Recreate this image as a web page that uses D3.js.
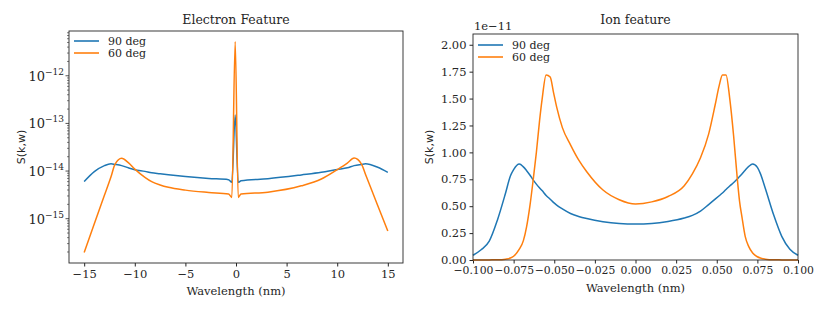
<!DOCTYPE html>
<html>
<head>
<meta charset="utf-8">
<script src="https://d3js.org/d3.v7.min.js"></script>
<style>
  body { margin: 0; background: #fff; }
  text { font-family: "DejaVu Serif", "Liberation Serif", serif; fill: #262626; }
  .ylab { font-family: "DejaVu Sans", sans-serif; }
</style>
</head>
<body>
<svg width="830" height="312"></svg>
<script>
const seriesNames = ["90 deg", "60 deg"];
const colors = ["#1f77b4", "#ff7f0e"];

// electron feature, wavelength in nm
const electronX = [-15, -14, -13, -12.35, -11.96, -11.3, -10.64, -10, -9, -8.33, -7.5, -6.68, -5, -2.7, -0.74, -0.41, -0.08, 0.22, 0.5, 3.15, 6.45, 8.43, 10, 11, 11.67, 12.4, 12.8, 14, 15];
const electron90 = [6.0e-15, 9.7e-15, 1.3e-14, 1.42e-14, 1.38e-14, 1.3e-14, 1.17e-14, 1.07e-14, 9.85e-15, 9.2e-15, 8.8e-15, 8.4e-15, 7.7e-15, 7.0e-15, 6.6e-15, 5.8e-15, 1.5e-13, 5.8e-15, 6.25e-15, 6.9e-15, 8.3e-15, 9.4e-15, 1.08e-14, 1.17e-14, 1.3e-14, 1.38e-14, 1.42e-14, 1.2e-14, 9.4e-15];
const electron60 = [1.95e-16, 7.8e-16, 3.1e-15, 7.6e-15, 1.38e-14, 1.86e-14, 1.5e-14, 1.1e-14, 7.4e-15, 6.0e-15, 5.1e-15, 4.55e-15, 3.98e-15, 3.56e-15, 3.3e-15, 2.8e-15, 5.2e-12, 2.8e-15, 3.3e-15, 3.6e-15, 4.9e-15, 6.8e-15, 1.07e-14, 1.47e-14, 1.87e-14, 1.4e-14, 8.5e-15, 1.9e-15, 5.5e-16];
const electronXTicks = [-15, -10, -5, 0, 5, 10, 15];
const electronYTicks = [-15, -14, -13, -12];

// ion feature, values in units of 1e-11
const ionX = [-0.1, -0.095, -0.09, -0.085, -0.08, -0.077, -0.075, -0.0715, -0.069, -0.067, -0.065, -0.063, -0.061, -0.059, -0.0575, -0.055, -0.0525, -0.0505, -0.0485, -0.045, -0.04, -0.035, -0.03, -0.02, -0.01, 0, 0.01, 0.02, 0.03, 0.035, 0.04, 0.045, 0.049, 0.0515, 0.0535, 0.0557, 0.058, 0.0604, 0.0625, 0.064, 0.0655, 0.0675, 0.0697, 0.0721, 0.075, 0.0768, 0.08, 0.085, 0.09, 0.095, 0.1];
const ion90 = [0.044, 0.095, 0.175, 0.37, 0.62, 0.78, 0.84, 0.892, 0.865, 0.83, 0.79, 0.745, 0.705, 0.67, 0.645, 0.6, 0.565, 0.535, 0.51, 0.475, 0.432, 0.405, 0.385, 0.356, 0.34, 0.335, 0.34, 0.358, 0.39, 0.415, 0.455, 0.515, 0.565, 0.597, 0.623, 0.655, 0.687, 0.72, 0.75, 0.775, 0.8, 0.835, 0.87, 0.892, 0.86, 0.805, 0.66, 0.42, 0.22, 0.1, 0.044];
const ion60 = [0, 0, 0.001, 0.002, 0.008, 0.018, 0.035, 0.1, 0.18, 0.31, 0.5, 0.74, 1.0, 1.3, 1.49, 1.72, 1.7, 1.56, 1.42, 1.23, 1.07, 0.93, 0.82, 0.65, 0.56, 0.52, 0.54, 0.59, 0.69, 0.8, 0.95, 1.17, 1.44, 1.62, 1.72, 1.72, 1.5, 1.15, 0.78, 0.55, 0.4, 0.22, 0.124, 0.065, 0.03, 0.018, 0.008, 0.002, 0.001, 0, 0];
const ionXTicks = [-0.1, -0.075, -0.05, -0.025, 0, 0.025, 0.05, 0.075, 0.1];
const ionYTicks = [0, 0.25, 0.5, 0.75, 1.0, 1.25, 1.5, 1.75, 2.0];

const svg = d3.select("svg");
const minus = s => s.replace("-", "\u2212");

function frame(g, w, h) {
  g.append("rect").attr("width", w).attr("height", h)
    .attr("fill", "none").attr("stroke", "#262626").attr("stroke-width", 0.9);
}

function legend(g, x0, y0) {
  seriesNames.forEach((name, i) => {
    const y = y0 + i * 12;
    g.append("line").attr("x1", x0).attr("x2", x0 + 25).attr("y1", y).attr("y2", y)
      .attr("stroke", colors[i]).attr("stroke-width", 1.6);
    g.append("text").attr("x", x0 + 34).attr("y", y + 4).attr("font-size", 11).text(name);
  });
}

// ---------- Electron Feature ----------
{
  const L = 69, T = 31, W = 334, H = 232;
  const g = svg.append("g").attr("transform", `translate(${L},${T})`);
  const x = d3.scaleLinear().domain([-16.5, 16.5]).range([0, W]);
  const y = d3.scaleLog().domain([Math.pow(10, -15.93), Math.pow(10, -11.06)]).range([H, 0]);

  const xAxis = g.append("g").attr("transform", `translate(0,${H})`)
    .call(d3.axisBottom(x).tickValues(electronXTicks).tickSize(3.5).tickPadding(3)
      .tickFormat(d => minus(String(d))));
  xAxis.selectAll("text").attr("font-size", 11.5);
  xAxis.selectAll(".tick line").attr("stroke", "#262626");

  // minor log ticks
  const minor = [];
  for (let e = -16; e <= -12; e++) for (let m = 2; m <= 9; m++) {
    const v = m * Math.pow(10, e);
    if (v >= y.domain()[0] && v <= y.domain()[1]) minor.push(v);
  }
  g.selectAll(".minor").data(minor).join("line")
    .attr("x1", -2).attr("x2", 0).attr("y1", d => y(d)).attr("y2", d => y(d))
    .attr("stroke", "#262626").attr("stroke-width", 0.6);
  g.selectAll(".major").data(electronYTicks).join("line")
    .attr("x1", -3.5).attr("x2", 0).attr("y1", d => y(Math.pow(10, d))).attr("y2", d => y(Math.pow(10, d)))
    .attr("stroke", "#262626").attr("stroke-width", 0.8);
  const yl = g.selectAll(".ylbl").data(electronYTicks).join("text")
    .attr("x", -5).attr("y", d => y(Math.pow(10, d)) + 5)
    .attr("text-anchor", "end").attr("font-size", 13);
  yl.append("tspan").text("10");
  yl.append("tspan").attr("dy", -6).attr("font-size", 9).text(d => "\u2212" + Math.abs(d));

  const line = d3.line().x(d => x(d[0])).y(d => y(d[1])).curve(d3.curveMonotoneX);
  [electron90, electron60].forEach((vals, i) => {
    g.append("path").datum(electronX.map((v, j) => [v, vals[j]]))
      .attr("fill", "none").attr("stroke", colors[i]).attr("stroke-width", 1.5)
      .attr("stroke-linejoin", "round").attr("d", line);
  });
  frame(g, W, H);
  xAxis.select(".domain").remove();
  legend(g, 5, 10);

  g.append("text").attr("x", W / 2).attr("y", -7).attr("text-anchor", "middle")
    .attr("font-size", 12.5).text("Electron Feature");
  g.append("text").attr("x", W / 2).attr("y", H + 32).attr("text-anchor", "middle")
    .attr("font-size", 11.5).text("Wavelength (nm)");
  g.append("text").attr("class", "ylab").attr("transform", `translate(${-44},${H / 2}) rotate(-90)`)
    .attr("text-anchor", "middle").attr("font-size", 11).text("S(k,w)");
}

// ---------- Ion feature ----------
{
  const L = 473, T = 34, W = 325, H = 226;
  const g = svg.append("g").attr("transform", `translate(${L},${T})`);
  const x = d3.scaleLinear().domain([-0.1, 0.1]).range([0, W]);
  const y = d3.scaleLinear().domain([0, 2.1]).range([H, 0]);

  const xAxis = g.append("g").attr("transform", `translate(0,${H})`)
    .call(d3.axisBottom(x).tickValues(ionXTicks).tickSize(3.5).tickPadding(3)
      .tickFormat(d => minus(d3.format(".3f")(d))));
  xAxis.selectAll("text").attr("font-size", 10.8);
  const yAxis = g.append("g")
    .call(d3.axisLeft(y).tickValues(ionYTicks).tickSize(3.5).tickPadding(3).tickFormat(d3.format(".2f")));
  yAxis.selectAll("text").attr("font-size", 11.5);
  g.selectAll(".domain").remove();
  g.selectAll(".tick line").attr("stroke", "#262626");

  const line = d3.line().x(d => x(d[0])).y(d => y(d[1])).curve(d3.curveMonotoneX);
  [ion90, ion60].forEach((vals, i) => {
    g.append("path").datum(ionX.map((v, j) => [v, vals[j]]))
      .attr("fill", "none").attr("stroke", colors[i]).attr("stroke-width", 1.5)
      .attr("stroke-linejoin", "round").attr("d", line);
  });
  frame(g, W, H);
  legend(g, 5, 11);

  g.append("text").attr("x", 1).attr("y", -4).attr("font-size", 11.5).text("1e\u221211");
  g.append("text").attr("x", W / 2).attr("y", -10).attr("text-anchor", "middle")
    .attr("font-size", 12.5).text("Ion feature");
  g.append("text").attr("x", W / 2).attr("y", H + 32).attr("text-anchor", "middle")
    .attr("font-size", 11.5).text("Wavelength (nm)");
  g.append("text").attr("class", "ylab").attr("transform", `translate(${-40},${H / 2}) rotate(-90)`)
    .attr("text-anchor", "middle").attr("font-size", 11).text("S(k,w)");
}
</script>
</body>
</html>
